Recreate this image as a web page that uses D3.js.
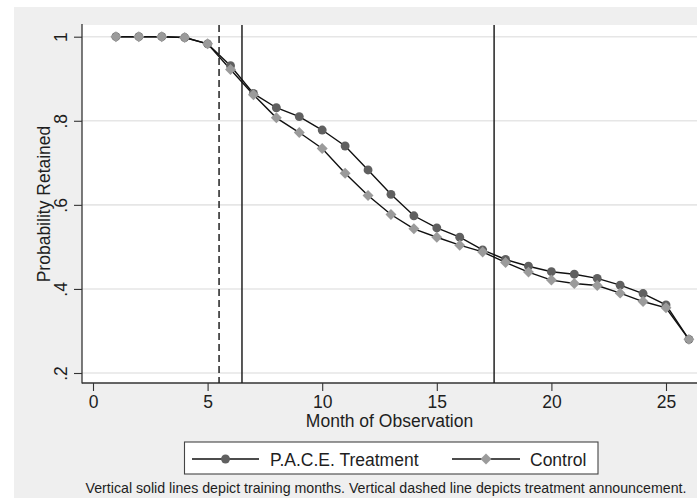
<!DOCTYPE html>
<html>
<head>
<meta charset="utf-8">
<script src="https://cdn.jsdelivr.net/npm/d3@7"></script>
<style>
  html, body { margin: 0; padding: 0; background: #ffffff; }
  svg { display: block; }
  text { font-family: "Liberation Sans", Arial, sans-serif; fill: #1e1e1e; }
</style>
</head>
<body>
<svg id="chart" width="697" height="498"></svg>
<script>
// ---- data ----
const months = [1,2,3,4,5,6,7,8,9,10,11,12,13,14,15,16,17,18,19,20,21,22,23,24,25,26];
const paceTreatment = [1.0,1.0,1.0,0.998,0.983,0.931,0.865,0.831,0.810,0.778,0.740,0.683,0.625,0.574,0.545,0.523,0.493,0.470,0.454,0.441,0.435,0.425,0.409,0.389,0.362,0.280];
const control = [1.0,1.0,1.0,0.998,0.983,0.922,0.862,0.807,0.772,0.734,0.675,0.622,0.577,0.543,0.523,0.504,0.488,0.463,0.440,0.421,0.413,0.408,0.390,0.370,0.355,0.280];
const xTicks = [0,5,10,15,20,25];
const yTicks = [0.2,0.4,0.6,0.8,1.0];
const yTickLabels = [".2",".4",".6",".8","1"];
const trainingMonths = [6.5, 17.5];
const announcementMonth = [5.5];
const seriesNames = ["P.A.C.E. Treatment", "Control"];
const xTitle = "Month of Observation";
const yTitle = "Probability Retained";
const note = "Vertical solid lines depict training months. Vertical dashed line depicts treatment announcement.";

// ---- layout ----
const svg = d3.select("#chart");
const plotL = 82, plotT = 25, plotB = 383, plotR = 697;
const x = d3.scaleLinear().domain([0, 25]).range([93, 666]);
const y = d3.scaleLinear().domain([0.2, 1]).range([373, 36.7]);

// outer gray background
svg.append("rect").attr("x", 14).attr("y", 7).attr("width", 697).attr("height", 498).attr("fill", "#efefef");
// plot region
svg.append("rect").attr("x", plotL).attr("y", plotT).attr("width", plotR - plotL).attr("height", plotB - plotT).attr("fill", "#ffffff");

// gridlines
svg.append("g").selectAll("line").data(yTicks).join("line")
  .attr("x1", plotL).attr("x2", plotR)
  .attr("y1", d => y(d)).attr("y2", d => y(d))
  .attr("stroke", "#e6e6e6").attr("stroke-width", 1.6);

// axes
const yAxis = d3.axisLeft(y).tickValues(yTicks).tickSize(8).tickPadding(7)
  .tickFormat((d, i) => yTickLabels[i]);
const gy = svg.append("g").attr("transform", `translate(${plotL},0)`).call(yAxis);
gy.select(".domain").remove();
gy.selectAll(".tick line").attr("stroke", "#333").attr("stroke-width", 1.1);
gy.selectAll(".tick text")
  .attr("x", 0).attr("y", 0).attr("dy", null)
  .attr("text-anchor", "middle")
  .attr("transform", "translate(-15,0) rotate(-90)")
  .style("font-size", "17.5px").style("font-family", "'Liberation Sans', Arial, sans-serif").attr("fill", "#1e1e1e");

const xAxis = d3.axisBottom(x).tickValues(xTicks).tickSize(8).tickPadding(6);
const gx = svg.append("g").attr("transform", `translate(0,${plotB})`).call(xAxis);
gx.select(".domain").remove();
gx.selectAll(".tick line").attr("stroke", "#333").attr("stroke-width", 1.1);
gx.selectAll(".tick text").attr("y", 25).attr("dy", null)
  .style("font-size", "17.5px").style("font-family", "'Liberation Sans', Arial, sans-serif").attr("fill", "#1e1e1e");

// axis lines
svg.append("line").attr("x1", plotL).attr("x2", plotL).attr("y1", plotT - 1).attr("y2", plotB + 0.5)
  .attr("stroke", "#333").attr("stroke-width", 1.3);
svg.append("line").attr("x1", plotL).attr("x2", plotR).attr("y1", plotB).attr("y2", plotB)
  .attr("stroke", "#333").attr("stroke-width", 1.3);

// vertical reference lines
svg.append("g").selectAll("line").data(trainingMonths).join("line")
  .attr("x1", d => x(d)).attr("x2", d => x(d)).attr("y1", plotT).attr("y2", plotB)
  .attr("stroke", "#222").attr("stroke-width", 1.5);
svg.append("g").selectAll("line").data(announcementMonth).join("line")
  .attr("x1", d => x(d)).attr("x2", d => x(d)).attr("y1", plotT).attr("y2", plotB)
  .attr("stroke", "#222").attr("stroke-width", 1.5).attr("stroke-dasharray", "7,4");

// series
const line = d3.line().x(d => x(d[0])).y(d => y(d[1]));
const tData = months.map((m, i) => [m, paceTreatment[i]]);
const cData = months.map((m, i) => [m, control[i]]);

svg.append("path").datum(tData).attr("d", line).attr("fill", "none").attr("stroke", "#111").attr("stroke-width", 1.4);
svg.append("path").datum(cData).attr("d", line).attr("fill", "none").attr("stroke", "#111").attr("stroke-width", 1.4);

const circleSym = d3.symbol().type(d3.symbolCircle).size(62);
const diamondSym = d3.symbol().type(d3.symbolSquare).size(60);

svg.append("g").selectAll("path").data(tData).join("path")
  .attr("d", circleSym)
  .attr("transform", d => `translate(${x(d[0])},${y(d[1])})`)
  .attr("fill", "#606060");
svg.append("g").selectAll("path").data(cData).join("path")
  .attr("d", diamondSym)
  .attr("transform", d => `translate(${x(d[0])},${y(d[1])}) rotate(45)`)
  .attr("fill", "#9b9b9b");

// axis titles
svg.append("text").attr("x", (plotL + plotR) / 2).attr("y", 427).attr("text-anchor", "middle")
  .style("font-size", "17.5px").text(xTitle);
svg.append("text").attr("transform", `translate(50,${(plotT + plotB) / 2}) rotate(-90)`)
  .attr("text-anchor", "middle").style("font-size", "17.5px").text(yTitle);

// legend
const lg = svg.append("g");
lg.append("rect").attr("x", 184.5).attr("y", 442).attr("width", 413.5).attr("height", 32)
  .attr("fill", "#ffffff").attr("stroke", "#444").attr("stroke-width", 1.1);
const legendItems = [
  { name: seriesNames[0], x1: 192, x2: 259, sym: circleSym, fill: "#606060", rot: 0, tx: 270 },
  { name: seriesNames[1], x1: 452, x2: 520, sym: diamondSym, fill: "#9b9b9b", rot: 45, tx: 530 }
];
legendItems.forEach(it => {
  lg.append("line").attr("x1", it.x1).attr("x2", it.x2).attr("y1", 459).attr("y2", 459)
    .attr("stroke", "#111").attr("stroke-width", 1.5);
  lg.append("path").attr("d", it.sym)
    .attr("transform", `translate(${(it.x1 + it.x2) / 2},459) rotate(${it.rot})`)
    .attr("fill", it.fill);
  lg.append("text").attr("x", it.tx).attr("y", 465.5).style("font-size", "17.5px").text(it.name);
});

// note
svg.append("text").attr("x", 386).attr("y", 493).attr("text-anchor", "middle")
  .style("font-size", "14.2px").text(note);
</script>
</body>
</html>
